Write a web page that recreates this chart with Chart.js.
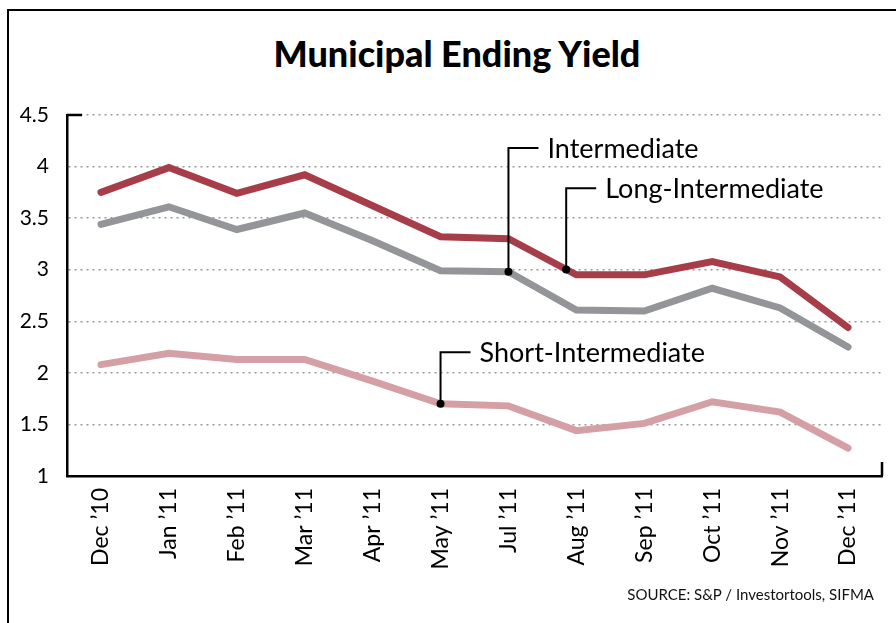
<!DOCTYPE html>
<html>
<head>
<meta charset="utf-8">
<script src="https://cdn.jsdelivr.net/npm/chart.js@4/dist/chart.umd.min.js"></script>
<style>
html, body { margin: 0; padding: 0; background: #fff; }
#wrap { position: relative; width: 896px; height: 623px; overflow: hidden; }
#frame { position: absolute; left: 7px; top: 9px; width: 950px; height: 700px; border-left: 2px solid #000; border-top: 2px solid #000; }
#title { position: absolute; left: 0; width: 914px; top: 31px; text-align: center; font: 900 36px/44px Lato, sans-serif; color: #000; }
#src { position: absolute; right: 22px; top: 585px; font: 15px Lato, sans-serif; color: #111; }
canvas { position: absolute; left: 0; top: 0; }
</style>
</head>
<body>
<div id="wrap">
  <div id="frame"></div>
  <div id="title">Municipal Ending Yield</div>
  <canvas id="chart" width="896" height="623"></canvas>
  <div id="src">SOURCE: S&amp;P / Investortools, SIFMA</div>
</div>
<script>
// months on the x axis (no June in the original)
const months = ["Dec \u201910", "Jan \u201911", "Feb \u201911", "Mar \u201911", "Apr \u201911", "May \u201911",
                "Jul \u201911", "Aug \u201911", "Sep \u201911", "Oct \u201911", "Nov \u201911", "Dec \u201911"];

const longInter  = [3.75, 3.99, 3.74, 3.92, 3.62, 3.32, 3.30, 2.95, 2.95, 3.08, 2.93, 2.44];
const inter      = [3.44, 3.61, 3.39, 3.55, 3.28, 2.99, 2.98, 2.61, 2.60, 2.82, 2.63, 2.25];
const shortInter = [2.08, 2.19, 2.13, 2.13, 1.92, 1.70, 1.68, 1.44, 1.51, 1.72, 1.62, 1.27];

const yTicks = [1, 1.5, 2, 2.5, 3, 3.5, 4, 4.5];

// callouts: which line, where along it, and the value level of the label
const callouts = [
  { text: "Intermediate",       ds: 1, idx: 6, t: 0.0,  labelAt: 4.18 },
  { text: "Long-Intermediate",  ds: 0, idx: 6, t: 0.85, labelAt: 3.79 },
  { text: "Short-Intermediate", ds: 2, idx: 5, t: 0.0,  labelAt: 2.20 }
];

const calloutPlugin = {
  id: "callouts",
  afterDatasetsDraw(chart) {
    const ctx = chart.ctx;
    const y = chart.scales.y;
    callouts.forEach(c => {
      const pts = chart.getDatasetMeta(c.ds).data;
      const a = pts[c.idx], b = pts[c.idx + 1] || a;
      const px = a.x + (b.x - a.x) * c.t;
      const py = a.y + (b.y - a.y) * c.t;
      const ly = y.getPixelForValue(c.labelAt);
      ctx.save();
      ctx.strokeStyle = "#000";
      ctx.lineWidth = 2;
      ctx.beginPath();
      ctx.moveTo(px, py);
      ctx.lineTo(px, ly);
      ctx.lineTo(px + 30, ly);
      ctx.stroke();
      ctx.fillStyle = "#000";
      ctx.beginPath();
      ctx.arc(px, py, 4, 0, Math.PI * 2);
      ctx.fill();
      ctx.font = "27px Lato";
      ctx.textBaseline = "middle";
      ctx.fillText(c.text, px + 39, ly + 1);
      ctx.restore();
    });
  }
};

const axisMarks = {
  id: "axisMarks",
  afterDraw(chart) {
    const { ctx, chartArea } = chart;
    ctx.save();
    ctx.strokeStyle = "#000";
    ctx.lineWidth = 2.5;
    ctx.beginPath();
    ctx.moveTo(chartArea.left, chartArea.top);
    ctx.lineTo(chartArea.left + 15, chartArea.top);
    ctx.moveTo(chartArea.right, chartArea.bottom);
    ctx.lineTo(chartArea.right, chartArea.bottom - 14);
    ctx.stroke();
    ctx.restore();
  }
};

function line(data, color) {
  return {
    data: data,
    borderColor: color,
    borderWidth: 7,
    borderCapStyle: "round",
    borderJoinStyle: "miter",
    pointRadius: 0,
    tension: 0,
    fill: false
  };
}

new Chart(document.getElementById("chart"), {
  type: "line",
  data: {
    labels: months,
    datasets: [
      line(longInter, "#a63d49"),
      line(inter, "#949598"),
      line(shortInter, "#d4a0a5")
    ]
  },
  options: {
    responsive: false,
    animation: false,
    layout: { padding: { left: 0, right: 14, top: 115, bottom: 0 } },
    plugins: {
      legend: { display: false },
      tooltip: { enabled: false },
      title: { display: false }
    },
    scales: {
      x: {
        offset: true,
        grid: { display: false, drawTicks: false },
        border: { display: true, color: "#000", width: 2.5 },
        ticks: {
          color: "#000",
          font: { family: "Lato", size: 23 },
          minRotation: 90,
          maxRotation: 90,
          padding: 12,
          autoSkip: false
        },
        afterFit: s => { s.height = 147; }
      },
      y: {
        min: 1,
        max: 4.5,
        afterBuildTicks: s => { s.ticks = yTicks.map(v => ({ value: v })); },
        grid: {
          drawTicks: false,
          lineWidth: 1.5,
          color: c => (c.tick && c.tick.value === 1) ? "rgba(0,0,0,0)" : "#999999"
        },
        border: { display: true, color: "#000", width: 2.5, dash: [2, 4] },
        ticks: {
          color: "#000",
          font: { family: "Lato", size: 21 },
          padding: 18,
          callback: v => String(v)
        },
        afterFit: s => { s.width = 67; }
      }
    }
  },
  plugins: [calloutPlugin, axisMarks]
});
</script>
</body>
</html>
